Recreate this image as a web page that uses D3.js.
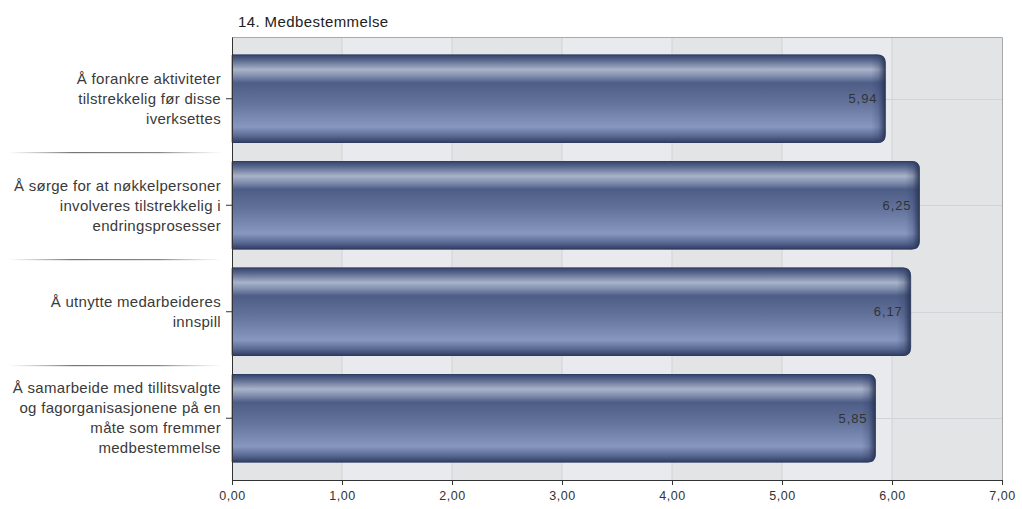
<!DOCTYPE html>
<html><head><meta charset="utf-8">
<script src="https://cdn.jsdelivr.net/npm/d3@7"></script>
<style>body{margin:0;background:#fff;}svg{display:block;font-family:"Liberation Sans",Arial,sans-serif;}</style>
</head><body>
<svg id="c" width="1022" height="509"></svg>
<script>
const title = "14. Medbestemmelse";
const categories = [
  ["Å forankre aktiviteter","tilstrekkelig før disse","iverksettes"],
  ["Å sørge for at nøkkelpersoner","involveres tilstrekkelig i","endringsprosesser"],
  ["Å utnytte medarbeideres","innspill"],
  ["Å samarbeide med tillitsvalgte","og fagorganisasjonene på en","måte som fremmer","medbestemmelse"]
];
const values = [5.94, 6.25, 6.17, 5.85];
const xTicks = [0,1,2,3,4,5,6,7];
const fmt = v => v.toFixed(2).replace(".", ",");

const svg = d3.select("#c");
const L = 232, R = 1002, T = 37, B = 480;
const ids = categories.map((c,i)=>"c"+i);
const x = d3.scaleLinear().domain([0,7]).range([L,R]);
const y = d3.scaleBand().domain(ids).range([T,B]).paddingInner(0.17).paddingOuter(0.165);

const defs = svg.append("defs");
const g1 = defs.append("linearGradient").attr("id","barg").attr("x1",0).attr("y1",0).attr("x2",0).attr("y2",1);
[[0,"#34426a"],[0.06,"#56658c"],[0.17,"#a9b3c9"],[0.24,"#8290b0"],[0.32,"#4d5d86"],[0.55,"#63739c"],[0.82,"#8797c0"],[0.92,"#5b6a94"],[1,"#2e3b60"]]
  .forEach(([o,c])=>g1.append("stop").attr("offset",o).attr("stop-color",c));
const g2 = defs.append("linearGradient").attr("id","endg").attr("x1",0).attr("y1",0).attr("x2",1).attr("y2",0);
[[0,"#2e3b60",0],[0.5,"#2e3b60",0.25],[1,"#25304f",0.9]].forEach(([o,c,a])=>g2.append("stop").attr("offset",o).attr("stop-color",c).attr("stop-opacity",a));
const g3 = defs.append("linearGradient").attr("id","sepg").attr("x1",0).attr("y1",0).attr("x2",1).attr("y2",0);
[[0,"#888",0],[0.3,"#666",0.9],[0.7,"#777",0.9],[1,"#aaa",0]].forEach(([o,c,a])=>g3.append("stop").attr("offset",o).attr("stop-color",c).attr("stop-opacity",a));

// background column bands
svg.append("g").selectAll("rect").data(xTicks.slice(0,-1)).join("rect")
  .attr("x",d=>x(d)).attr("y",T).attr("width",d=>x(d+1)-x(d)).attr("height",B-T)
  .attr("fill",d=>d%2===0?"#e3e4e6":"#e8eaed");
// vertical grid
svg.append("g").selectAll("line").data(xTicks.slice(1,-1)).join("line")
  .attr("x1",d=>x(d)).attr("x2",d=>x(d)).attr("y1",T).attr("y2",B)
  .attr("stroke","#d2d3d6").attr("stroke-width",1);
// horizontal grid at category centers
svg.append("g").selectAll("line").data(ids).join("line")
  .attr("x1",L).attr("x2",R).attr("y1",d=>Math.round(y(d)+y.bandwidth()/2)+0.5).attr("y2",d=>Math.round(y(d)+y.bandwidth()/2)+0.5)
  .attr("stroke","#d2d3d6");
// border top/right
svg.append("path").attr("d",`M${L},${T+0.5}H${R+0.5}V${B}`).attr("fill","none").attr("stroke","#a9a9a9");

// bars
const bh = y.bandwidth(), r = 8;
const barPath = (x0,x1,y0,h)=>`M${x0},${y0}H${x1-r}Q${x1},${y0} ${x1},${y0+r}V${y0+h-r}Q${x1},${y0+h} ${x1-r},${y0+h}H${x0}Z`;
const bars = svg.append("g");
values.forEach((v,i)=>{
  const y0 = y(ids[i]), x1 = x(v);
  bars.append("path").attr("d",barPath(L,x1,y0,bh)).attr("fill","url(#barg)");
  bars.append("path").attr("d",barPath(x1-14,x1,y0,bh)).attr("fill","url(#endg)");
  bars.append("path").attr("d",barPath(L,x1,y0+0.5,bh-1)).attr("fill","none").attr("stroke","#2f3c62").attr("stroke-width",1).attr("stroke-opacity",0.7);
  bars.append("text").attr("x",x1-8).attr("y",y0+bh/2).attr("dy","0.35em")
    .attr("text-anchor","end").attr("font-size",13).attr("letter-spacing","0.9px").attr("fill","#333").text(fmt(v));
});

// axes
const xa = svg.append("g").attr("transform",`translate(0,${B})`).call(d3.axisBottom(x).tickValues(xTicks).tickFormat(fmt).tickSize(5).tickSizeOuter(0));
xa.select(".domain").attr("stroke","#333");
xa.selectAll(".tick line").attr("stroke","#333");
xa.selectAll("text").attr("font-size",12.5).attr("letter-spacing","0.6px").attr("fill","#333").attr("dy","0.95em").attr("font-family","Liberation Sans, Arial, sans-serif");
const ya = svg.append("g").attr("transform",`translate(${L},0)`).call(d3.axisLeft(y).tickSize(6).tickSizeOuter(0).tickFormat(""));
ya.select(".domain").attr("stroke","#333");
ya.selectAll(".tick line").attr("stroke","#333");

// category labels
const lab = svg.append("g");
categories.forEach((lines,i)=>{
  const cy = y(ids[i]) + bh/2, lh = 20;
  const t = lab.append("text").attr("text-anchor","end").attr("font-size",15).attr("letter-spacing","0.3px").attr("fill","#3a3a3a");
  lines.forEach((s,j)=>t.append("tspan").attr("x",221).attr("y",cy + (j-(lines.length-1)/2)*lh).attr("dy","0.35em").text(s));
});
// separators
const seps = ids.slice(1).map(d=>y(d) - y.step()*y.paddingInner()/2);
const sg = svg.append("g");
sg.selectAll("rect").data(seps).join("rect")
  .attr("x",8).attr("width",215).attr("y",d=>Math.round(d)).attr("height",1.2).attr("fill","url(#sepg)");

// title
svg.append("text").attr("x",238).attr("y",27).attr("font-size",15).attr("letter-spacing","0.4px").attr("fill","#222").text(title);
</script>
</body></html>
